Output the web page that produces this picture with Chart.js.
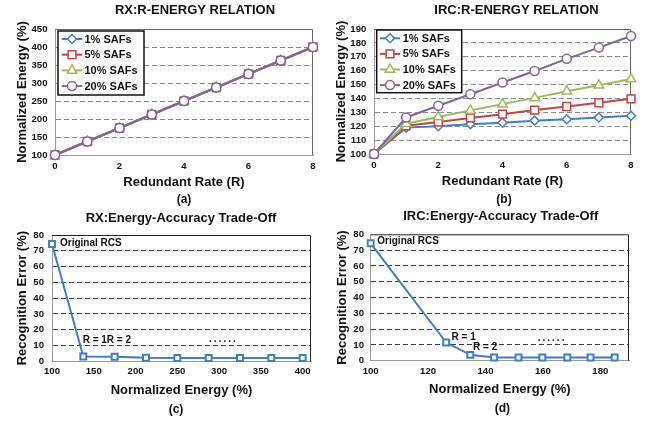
<!DOCTYPE html>
<html>
<head>
<meta charset="utf-8">
<script src="https://cdn.jsdelivr.net/npm/chart.js@4.4.1/dist/chart.umd.min.js"></script>
<style>
  body { margin: 0; background: #fff; }
  #board { position: relative; width: 648px; height: 424px; background: #fff; }
  .panel { position: absolute; width: 324px; }
</style>
</head>
<body>
<div id="board">
  <div class="panel" style="left:0;top:0;height:212px"><canvas id="chart-a" width="324" height="212"></canvas></div>
  <div class="panel" style="left:324px;top:0;height:212px"><canvas id="chart-b" width="324" height="212"></canvas></div>
  <div class="panel" style="left:0;top:200px;height:224px"><canvas id="chart-c" width="324" height="224"></canvas></div>
  <div class="panel" style="left:324px;top:200px;height:224px"><canvas id="chart-d" width="324" height="224"></canvas></div>
</div>
<script>
// Values
const redundantRates = [0, 1, 2, 3, 4, 5, 6, 7, 8]
const safLabels = ['1% SAFs', '5% SAFs', '10% SAFs', '20% SAFs']

// RX: all SAF rates give the same energy
const rxEnergy1 = [100, 137.5, 175, 212.5, 250, 287.5, 325, 362.5, 400]
const rxEnergy5 = [100, 137.5, 175, 212.5, 250, 287.5, 325, 362.5, 400]
const rxEnergy10 = [100, 137.5, 175, 212.5, 250, 287.5, 325, 362.5, 400]
const rxEnergy20 = [100, 137.5, 175, 212.5, 250, 287.5, 325, 362.5, 400]

// IRC
const ircEnergy1 = [100, 119, 120, 121.5, 122.5, 124, 125, 126.3, 127.5]
const ircEnergy5 = [100, 120.3, 123, 126, 128.7, 131.6, 134.2, 136.9, 139.7]
const ircEnergy10 = [100, 121.8, 126.6, 131.4, 135.9, 140.4, 145.2, 149.5, 154]
const ircEnergy20 = [100, 126.3, 134.7, 143, 151.5, 159.8, 168.5, 176.6, 185]

// Trade-off curves (x = normalized energy, y = recognition error)
const rxTradeEnergy = [100, 137.5, 175, 212.5, 250, 287.5, 325, 362.5, 400]
const rxTradeError = [74.3, 3, 2.9, 2.2, 2.1, 2.1, 2.1, 2.1, 2.1]
const ircTradeEnergy = [100, 126.3, 134.7, 143, 151.5, 159.8, 168.5, 176.6, 185]
const ircTradeError = [74.3, 11.5, 3.7, 2, 2, 2, 2, 2, 2]

// Text labels placed next to points
const rxNotes = [
  {text: 'Original RCS', x: 100, y: 74.3, dx: 8, dy: -1},
  {text: 'R = 1', x: 137.5, y: 3, dx: -0.6, dy: -16.6},
  {text: 'R = 2', x: 175, y: 2.9, dx: -7.8, dy: -16.6},
  {text: '......', x: 288, y: 12.5, dx: 0, dy: 0, base: 'alphabetic', spacing: 2}
]
const ircNotes = [
  {text: 'Original RCS', x: 100, y: 74.3, dx: 6.6, dy: -2.5},
  {text: 'R = 1', x: 126.3, y: 11.5, dx: 5.4, dy: -5.7},
  {text: 'R = 2', x: 134.7, y: 3.7, dx: 2.8, dy: -7.3},
  {text: '......', x: 158.2, y: 12.5, dx: 0, dy: 0, base: 'alphabetic', spacing: 2}
]

const FONT = "'Liberation Sans', Arial, sans-serif"
const BLUE = '#3D7EC6'
const RED = '#C8423E'
const GREEN = '#9BBB59'
const PURPLE = '#8064A2'

Chart.defaults.font.family = FONT
Chart.defaults.color = '#111'

// marker shapes, same geometry as Chart.js uses for points
function drawMarker(ctx, style, x, y, r) {
  ctx.beginPath()
  if (style === 'circle') {
    ctx.arc(x, y, r, 0, Math.PI * 2)
  } else if (style === 'rect') {
    const s = Math.SQRT1_2 * r
    ctx.rect(x - s, y - s, 2 * s, 2 * s)
  } else if (style === 'triangle') {
    ctx.moveTo(x, y - r)
    ctx.lineTo(x + 0.866 * r, y + 0.5 * r)
    ctx.lineTo(x - 0.866 * r, y + 0.5 * r)
    ctx.closePath()
  } else {
    ctx.moveTo(x - r, y)
    ctx.lineTo(x, y - r)
    ctx.lineTo(x + r, y)
    ctx.lineTo(x, y + r)
    ctx.closePath()
  }
  ctx.fill()
  ctx.stroke()
}

function makeTexts(t) {
  return {
    id: 'panelTexts',
    afterDraw(chart) {
      const ctx = chart.ctx
      ctx.save()
      ctx.fillStyle = '#111'
      ctx.textAlign = 'center'
      ctx.textBaseline = 'middle'
      ctx.font = `bold 13px ${FONT}`
      ctx.fillText(t.title, t.tx, t.ty)
      ctx.font = `bold 12px ${FONT}`
      ctx.fillText(t.caption, t.cx, t.cy)
      ctx.restore()
    }
  }
}

function makeFrame(color) {
  return {
    id: 'frame',
    beforeDatasetsDraw(chart) {
      const {ctx, chartArea: a} = chart
      ctx.save()
      ctx.strokeStyle = color
      ctx.lineWidth = 1
      ctx.beginPath()
      ctx.moveTo(a.left, a.top + 0.5)
      ctx.lineTo(a.right - 0.5, a.top + 0.5)
      ctx.lineTo(a.right - 0.5, a.bottom)
      ctx.stroke()
      ctx.restore()
    }
  }
}

function makeLegend(L) {
  return {
    id: 'boxLegend',
    afterDatasetsDraw(chart) {
      const {ctx, chartArea: a} = chart
      const bx = a.left + L.dx, by = a.top + L.dy
      ctx.save()
      ctx.fillStyle = '#fff'
      ctx.fillRect(bx, by, L.w, L.h)
      ctx.strokeStyle = '#111'
      ctx.lineWidth = 1.5
      ctx.strokeRect(bx, by, L.w, L.h)
      chart.data.datasets.forEach((ds, i) => {
        const y = by + L.row0 + i * L.rowH
        ctx.strokeStyle = ds.borderColor
        ctx.lineWidth = 2
        ctx.beginPath()
        ctx.moveTo(bx + L.line0, y)
        ctx.lineTo(bx + L.line1, y)
        ctx.stroke()
        ctx.fillStyle = '#fff'
        ctx.lineWidth = ds.pointBorderWidth
        drawMarker(ctx, ds.pointStyle, bx + (L.line0 + L.line1) / 2, y, ds.pointRadius)
        ctx.fillStyle = '#111'
        ctx.font = `bold 11px ${FONT}`
        ctx.textAlign = 'left'
        ctx.textBaseline = 'middle'
        ctx.fillText(ds.label, bx + L.text, y + 0.5)
      })
      ctx.restore()
    }
  }
}

function makeNotes(items) {
  return {
    id: 'notes',
    afterDatasetsDraw(chart) {
      const ctx = chart.ctx
      const xs = chart.scales.x, ys = chart.scales.y
      ctx.save()
      ctx.fillStyle = '#111'
      ctx.font = `bold 10px ${FONT}`
      ctx.textAlign = 'left'
      items.forEach(n => {
        ctx.textBaseline = n.base || 'middle'
        if ('letterSpacing' in ctx) ctx.letterSpacing = (n.spacing || 0) + 'px'
        ctx.fillText(n.text, xs.getPixelForValue(n.x) + n.dx, ys.getPixelForValue(n.y) + n.dy)
      })
      ctx.restore()
    }
  }
}

function energySet(label, values, color, marker, radius, order) {
  return {
    label: label,
    data: values.map((v, i) => ({x: redundantRates[i], y: v})),
    borderColor: color,
    backgroundColor: '#fff',
    borderWidth: 2,
    pointStyle: marker,
    pointRadius: radius,
    pointBorderWidth: 1.5,
    pointBackgroundColor: '#fff',
    pointBorderColor: color,
    clip: false,
    order: order,
    tension: 0
  }
}

function tradeSet(xs, ys) {
  return {
    label: 'trade-off',
    data: ys.map((v, i) => ({x: xs[i], y: v})),
    borderColor: BLUE,
    borderWidth: 2,
    pointStyle: 'rect',
    pointRadius: 4.2,
    pointBorderWidth: 2,
    pointBackgroundColor: '#fff',
    pointBorderColor: BLUE,
    clip: false,
    tension: 0
  }
}

function panel(id, datasets, o, plugins) {
  const bold = size => ({size: size, weight: 'bold'})
  return new Chart(document.getElementById(id), {
    type: 'line',
    data: {datasets: datasets},
    plugins: plugins,
    options: {
      responsive: false,
      animation: false,
      events: [],
      layout: {padding: {top: o.top, right: o.right, left: 0, bottom: 0}, autoPadding: false},
      plugins: {legend: {display: false}, tooltip: {enabled: false}, title: {display: false}},
      scales: {
        x: {
          type: 'linear',
          min: o.xMin,
          max: o.xMax,
          afterFit: s => { s.height = o.xHeight },
          grid: {display: false, drawTicks: false},
          border: {display: true, color: '#9a9a9a', width: 1},
          ticks: {stepSize: o.xStep, includeBounds: false, padding: o.xTickPad, font: bold(9.6), color: '#111', maxRotation: 0, autoSkip: false},
          title: {display: true, text: o.xTitle, font: {size: 13, weight: 'bold', lineHeight: 1}, padding: {top: 0, bottom: o.xTitlePad}, color: '#111'}
        },
        y: {
          min: o.yMin,
          max: o.yMax,
          afterFit: s => { s.width = o.yWidth },
          grid: {
            drawTicks: false,
            lineWidth: 1,
            color: c => (c.tick && (c.tick.value === o.yMin || c.tick.value === o.yMax)) ? 'rgba(0,0,0,0)' : o.gridColor
          },
          border: {display: true, color: '#9a9a9a', width: 1, dash: [5, 3]},
          ticks: {stepSize: o.yStep, autoSkip: false, padding: o.yTickPad, font: bold(9.6), color: '#111'},
          title: {display: true, text: o.yTitle, font: {size: 13, weight: 'bold', lineHeight: 1}, padding: {top: o.yTitlePad, bottom: 0}, color: '#111'}
        }
      }
    }
  })
}

// (a) RX: R-energy relation
panel('chart-a', [
  energySet(safLabels[0], rxEnergy1, BLUE, 'rectRot', 4.5, 3),
  energySet(safLabels[1], rxEnergy5, RED, 'rect', 5.5, 2),
  energySet(safLabels[2], rxEnergy10, GREEN, 'triangle', 5.5, 1),
  energySet(safLabels[3], rxEnergy20, PURPLE, 'circle', 4.5, 0)
], {
  top: 29, right: 11, yWidth: 55, xHeight: 57,
  xMin: 0, xMax: 8, xStep: 2, xTickPad: 5.9, xTitlePad: 22.8, xTitle: 'Redundant Rate (R)',
  yMin: 100, yMax: 450, yStep: 50, yTickPad: 7.5, yTitlePad: 15.8, yTitle: 'Normalized Energy (%)',
  gridColor: '#8a8a8a'
}, [
  makeFrame('#666'),
  makeLegend({dx: 3, dy: 2, w: 86, h: 64, row0: 8, rowH: 15.7, line0: 3.7, line1: 24.3, text: 26.5}),
  makeTexts({title: 'RX:R-ENERGY RELATION', tx: 195, ty: 10.5, caption: '(a)', cx: 184, cy: 199.5})
])

// (b) IRC: R-energy relation
panel('chart-b', [
  energySet(safLabels[0], ircEnergy1, BLUE, 'rectRot', 4.5, 3),
  energySet(safLabels[1], ircEnergy5, RED, 'rect', 5.5, 2),
  energySet(safLabels[2], ircEnergy10, GREEN, 'triangle', 5.5, 1),
  energySet(safLabels[3], ircEnergy20, PURPLE, 'circle', 4.5, 0)
], {
  top: 29, right: 17, yWidth: 50, xHeight: 58,
  xMin: 0, xMax: 8, xStep: 2, xTickPad: 5.9, xTitlePad: 23.8, xTitle: 'Redundant Rate (R)',
  yMin: 100, yMax: 190, yStep: 10, yTickPad: 7.7, yTitlePad: 10.7, yTitle: 'Normalized Energy (%)',
  gridColor: '#8a8a8a'
}, [
  makeFrame('#666'),
  makeLegend({dx: 2.7, dy: 1, w: 85, h: 62.7, row0: 8.3, rowH: 15.6, line0: 3.3, line1: 23.3, text: 26}),
  makeTexts({title: 'IRC:R-ENERGY RELATION', tx: 192.5, ty: 10, caption: '(b)', cx: 180, cy: 199.3})
])

// (c) RX: energy-accuracy trade-off
panel('chart-c', [tradeSet(rxTradeEnergy, rxTradeError)], {
  top: 35, right: 13, yWidth: 52, xHeight: 62.7,
  xMin: 100, xMax: 410, xStep: 50, xTickPad: 4.2, xTitlePad: 27.2, xTitle: 'Normalized Energy (%)',
  yMin: 0, yMax: 80, yStep: 10, yTickPad: 8, yTitlePad: 15.8, yTitle: 'Recognition Error (%)',
  gridColor: '#3a3a3a'
}, [
  makeFrame('#222'),
  makeNotes(rxNotes),
  makeTexts({title: 'RX:Energy-Accuracy Trade-Off', tx: 181, ty: 18, caption: '(c)', cx: 176, cy: 209.3})
])

// (d) IRC: energy-accuracy trade-off
panel('chart-d', [tradeSet(ircTradeEnergy, ircTradeError)], {
  top: 34.3, right: 19, yWidth: 46.7, xHeight: 63.3,
  xMin: 100, xMax: 190, xStep: 20, xTickPad: 4.8, xTitlePad: 28.2, xTitle: 'Normalized Energy (%)',
  yMin: 0, yMax: 80, yStep: 10, yTickPad: 6.7, yTitlePad: 11.5, yTitle: 'Recognition Error (%)',
  gridColor: '#3a3a3a'
}, [
  makeFrame('#222'),
  makeNotes(ircNotes),
  makeTexts({title: 'IRC:Energy-Accuracy Trade-Off', tx: 176.7, ty: 16.5, caption: '(d)', cx: 178.3, cy: 208.7})
])
</script>
</body>
</html>
